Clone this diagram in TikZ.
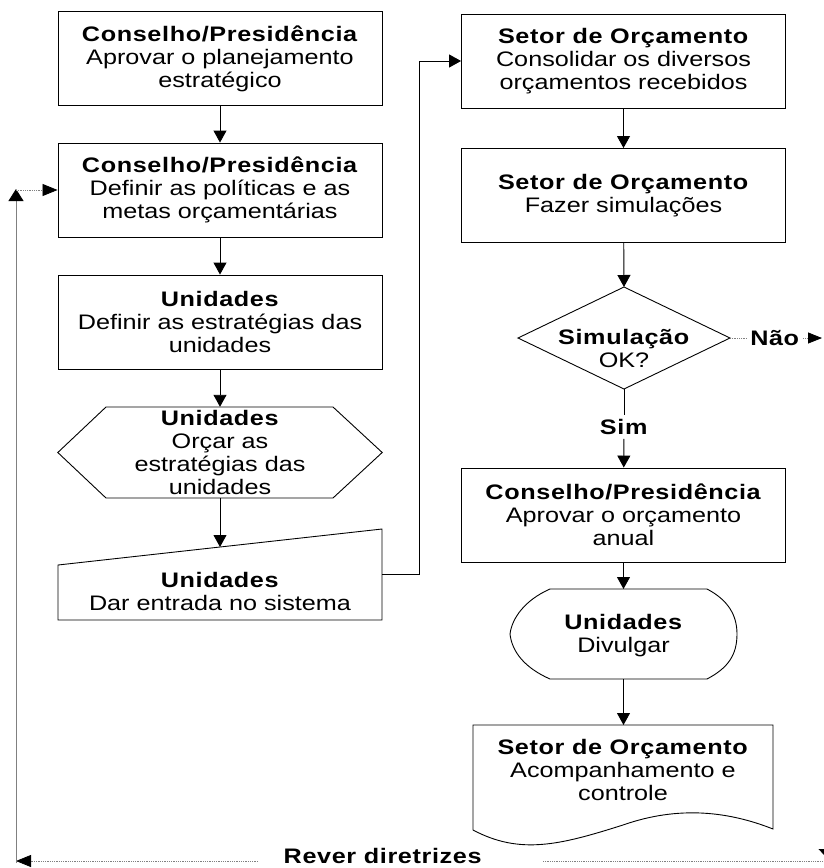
\documentclass[tikz,border=0pt]{standalone}
\usepackage{fontspec}
\setmainfont{Liberation Sans}[FakeStretch=1.2,BoldFeatures={LetterSpace=3}]
\usetikzlibrary{arrows.meta}

\begin{document}
\begin{tikzpicture}[x=1pt,y=-1pt,
    every node/.style={font=\fontsize{21}{23}\selectfont},
    procbox/.style={draw,line width=0.9pt,minimum width=324pt,minimum height=94pt,align=center,inner sep=0pt},
    txt/.style={align=center,inner sep=0pt},
    flow/.style={line width=0.9pt,-{Triangle[length=12pt,width=13pt]}},
    dotline/.style={gray,line width=0.8pt,densely dotted}]

    \useasboundingbox (0,0) rectangle (824,868);

    % left column
    \node[procbox] (cp1) at (220,58.5) {\textbf{Conselho/Presidência}\\Aprovar o planejamento\\estratégico};
    \node[procbox] (cp2) at (220,190) {\textbf{Conselho/Presidência}\\Definir as políticas e as\\metas orçamentárias};
    \node[procbox] (un1) at (220,322) {\textbf{Unidades}\\Definir as estratégias das\\unidades};
    \node[txt,minimum width=324pt,minimum height=91pt] (hex) at (220,452.5) {\textbf{Unidades}\\Orçar as\\estratégias das\\unidades};
    \draw[line width=0.9pt] (hex.west) -- (106,407) -- (333,407) -- (hex.east) -- (333,498) -- (106,498) -- cycle;
    \node[txt] (inp) at (220,591) {\textbf{Unidades}\\Dar entrada no sistema};
    \draw[line width=0.9pt] (58,565) -- (382,529) -- (382,620) -- (58,620) -- cycle;
    \coordinate (inpTop) at (220,547);
    \coordinate (inpR) at (382,574);

    % right column
    \node[procbox] (so1) at (623.5,61) {\textbf{Setor de Orçamento}\\Consolidar os diversos\\orçamentos recebidos};
    \node[procbox] (so2) at (623.5,195.5) {\textbf{Setor de Orçamento}\\Fazer simulações};
    \coordinate (dTop) at (624,287);
    \coordinate (dRight) at (730,338);
    \coordinate (dBot) at (624,389);
    \coordinate (dLeft) at (518,338);
    \draw[line width=0.9pt] (dTop) -- (dRight) -- (dBot) -- (dLeft) -- cycle;
    \node[txt] (sim) at (624,348) {\textbf{Simulação}\\OK?};
    \node[txt,inner sep=4pt] (simlbl) at (624,427) {\textbf{Sim}};
    \node[txt,inner sep=3pt] (nao) at (775,338) {\textbf{Não}};
    \node[procbox] (cp3) at (623.5,515) {\textbf{Conselho/Presidência}\\Aprovar o orçamento\\anual};
    \node[txt] (dsp) at (623.5,636) {\textbf{Unidades}\\Divulgar};
    \draw[line width=0.9pt] (550,589) -- (707,589)
        .. controls (728,600) and (737,615) .. (737,634)
        .. controls (737,655) and (728,668) .. (707,679)
        -- (550,679)
        .. controls (525,668) and (512,652) .. (510,634)
        .. controls (512,618) and (525,600) .. (550,589) -- cycle;
    \coordinate (dspTop) at (623.5,589);
    \coordinate (dspBot) at (623.5,679);
    \node[txt] (doc) at (623,769.5) {\textbf{Setor de Orçamento}\\Acompanhamento e\\controle};
    \draw[line width=0.9pt] (473,830) -- (473,725) -- (773,725) -- (773,829)
        .. controls (730,812) and (680,805) .. (623,825)
        .. controls (560,845) and (520,855) .. (473,830);
    \coordinate (docTop) at (623.5,725);

    % connectors
    \draw[flow] (cp1) -- (cp2);
    \draw[flow] (cp2) -- (un1);
    \draw[flow] (un1) -- (hex);
    \draw[flow] (hex) -- (inpTop);
    \draw[flow] (inpR) -- ++(37,0) |- (so1.west);
    \draw[flow] (so1) -- (so2);
    \draw[flow] (so2) -- (dTop);
    \draw[line width=0.9pt] (dBot) -- (simlbl);
    \draw[flow] (simlbl) -- (cp3);
    \draw[flow] (cp3) -- (dspTop);
    \draw[flow] (dspBot) -- (docTop);
    \draw[dotline] (dRight) -- (nao);
    \draw[dotline,-{Triangle[length=14pt,width=11pt,black]}] (nao) -- (822,338);

    % return loop
    \node[txt] (rever) at (383,856) {\textbf{Rever diretrizes}};
    \coordinate (revL) at (258,861);
    \coordinate (revR) at (543,861);
    \coordinate (loopB) at (16,861);
    \coordinate (loopT) at (16,189);
    \draw[dotline,-{Triangle[length=15pt,width=12pt,black]}] (revL) -- (loopB);
    \draw[gray,line width=0.8pt,-{Triangle[length=12pt,width=15pt,black]}] (16,863) -- (loopT);
    \draw[dotline,-{Triangle[length=15pt,width=12pt,black]}] (16,190) -- (cp2.west);
    \draw[dotline] (revR) -- (826,861);
    \draw[line width=0.8pt,-{Triangle[length=8pt,width=15pt]}] (826,845) -- (826,857);
\end{tikzpicture}
\end{document}
